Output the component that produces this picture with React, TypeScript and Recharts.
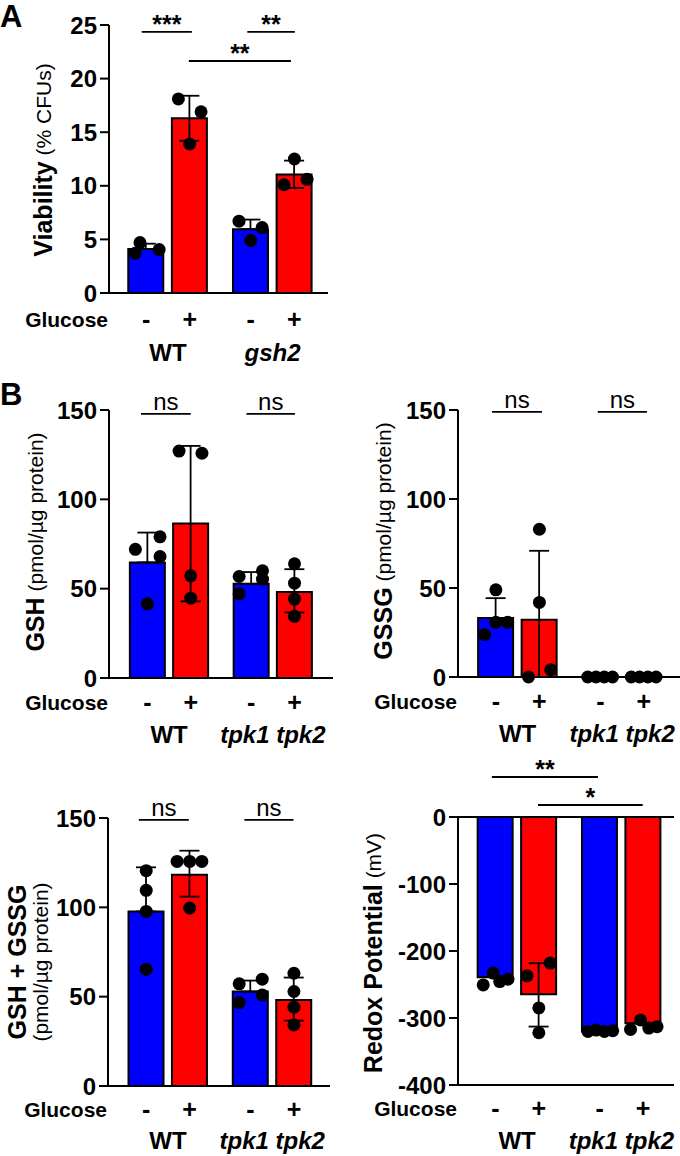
import React from 'react';
import { ComposedChart, Bar, Cell, XAxis, YAxis, Scatter, ErrorBar, ReferenceLine } from 'recharts';

const FONT = '"Liberation Sans", Arial, Helvetica, sans-serif';
const BLUE = '#0000ff';
const RED = '#ff0000';

// ---------- shared categories ----------
const barColors = [BLUE, RED, BLUE, RED];
const positions = [0, 1, 2.4, 3.4];
const glucoseSigns = ['-', '+', '-', '+'];
const groupPositions = [0.5, 2.9];
const strainsA = ['WT', 'gsh2'];
const strainsB = ['WT', 'tpk1 tpk2'];
const strainItalic = [false, true];

// ---------- Panel A: viability ----------
const viabilityTicks = [0, 5, 10, 15, 20, 25];
const viabilityMean = [4.1, 16.3, 5.95, 11.05];
const viabilityErr = [[0, 0.5], [2.1, 2.1], [0, 0.9], [1.25, 1.3]];
const viabilityPts = [[3.7, 4.7, 4.05], [18.1, 16.9, 13.9], [6.7, 6.1, 4.9], [12.5, 10.1, 10.6]];
const viabilityJit = [[-0.25, -0.14, 0.3], [-0.26, 0.26, 0], [-0.27, 0.26, 0], [0, -0.24, 0.29]];
const viabilitySig = [
  { x1: -0.1, x2: 1.05, y: 24.35, text: '***' },
  { x1: 2.32, x2: 3.41, y: 24.35, text: '**' },
  { x1: 0.98, x2: 3.32, y: 21.64, text: '**' },
];

// ---------- GSH ----------
const glutTicks = [0, 50, 100, 150];
const gshMean = [64.7, 86.5, 52.7, 48.1];
const gshErr = [[0, 16.7], [43.6, 43.4], [0, 6.6], [11.4, 12.8]];
const gshPts = [[72, 79, 68, 41.5], [127, 125.8, 57.2, 44.7], [56.8, 60, 47.1, 55.3], [63.9, 53.1, 44.2, 34.5]];
const gshJit = [[-0.28, 0.29, 0.29, 0], [-0.27, 0.26, 0, 0], [-0.28, 0.26, -0.28, 0.26], [0, 0, 0, 0]];
const gshSig = [
  { x1: -0.15, x2: 1.0, y: 147.8, text: 'ns' },
  { x1: 2.29, x2: 3.41, y: 147.8, text: 'ns' },
];

// ---------- GSSG ----------
const gssgMean = [33.1, 32.2, 0, 0];
const gssgErr = [[0, 11.2], [32.2, 38.7], [0, 0], [0, 0]];
const gssgPts = [[49, 23.8, 30.7, 30.7], [83, 41.9, 0, 4.1], [0, 0, 0, 0], [0, 0, 0, 0]];
const gssgJit = [[0, -0.26, 0, 0.27], [0, 0, -0.25, 0.26], [-0.29, -0.1, 0.09, 0.28], [-0.29, -0.1, 0.09, 0.28]];
const gssgSig = [
  { x1: -0.09, x2: 1.06, y: 148.9, text: 'ns' },
  { x1: 2.34, x2: 3.47, y: 148.9, text: 'ns' },
];

// ---------- GSH + GSSG ----------
const totalMean = [97.7, 118.3, 52.9, 48.2];
const totalErr = [[0, 24.7], [12.3, 13.4], [0, 6.1], [11.6, 12.5]];
const totalPts = [[120.5, 109.5, 97.7, 65.4], [125.7, 125.7, 125.7, 99.6], [57.2, 59.8, 46.7, 51], [63.1, 52.9, 44.1, 34.2]];
const totalJit = [[0, 0, 0, 0], [-0.29, 0, 0.28, 0], [-0.26, 0.27, -0.26, 0.27], [0, 0, 0, 0]];
const totalSig = [
  { x1: -0.17, x2: 0.98, y: 148.9, text: 'ns' },
  { x1: 2.26, x2: 3.39, y: 148.9, text: 'ns' },
];

// ---------- Redox potential ----------
const redoxTicks = [-400, -300, -200, -100, 0];
const redoxMean = [-239, -264.5, -320, -308];
const redoxErr = [[0, 0], [48.3, 46.3], [0, 0], [0, 0]];
const redoxPts = [[-250.6, -233, -245.6, -242], [-237, -218, -285, -322], [-320, -318, -320, -319], [-317, -303, -315, -313]];
const redoxJit = [[-0.28, -0.05, 0.1, 0.29], [-0.27, 0.26, 0, 0], [-0.27, -0.08, 0.11, 0.3], [-0.29, -0.06, 0.13, 0.32]];
const redoxSig = [
  { x1: -0.08, x2: 2.36, y: 59.7, text: '**' },
  { x1: 0.98, x2: 3.39, y: 17.9, text: '*' },
];

type Sig = { x1: number; x2: number; y: number; text: string };
type Part = { t: string; bold: boolean };
type LabelLine = { x: number; parts: Part[] };

interface PanelProps {
  left: number; top: number; width: number; height: number;
  plot: { l: number; r: number; t: number; b: number };
  xDomain: [number, number]; yDomain: [number, number]; yTicks: number[];
  means: number[]; errs: number[][]; pts: number[][]; jit: number[][];
  sigs: Sig[]; strains: string[];
  yLabelCy: number; yLabelLines: LabelLine[];
  signDy: number; groupDy: number; zeroLine?: boolean;
}

const makeSigLabel = (text: string) => (props: any) => {
  const vb = props.viewBox || {};
  const cx = (vb.x ?? 0) + (vb.width ?? 0) / 2;
  const y = vb.y ?? 0;
  const isStar = text.indexOf('*') >= 0;
  return (
    <text x={cx} y={isStar ? y + 1 : y - 4} textAnchor="middle" fontFamily={FONT}
      fontSize={isStar ? 25 : 24} fontWeight={isStar ? 700 : 400} fill="#000">{text}</text>
  );
};

function Panel(p: PanelProps) {
  const yw = p.plot.l - p.left;
  const margin = {
    top: p.plot.t - p.top,
    right: p.left + p.width - p.plot.r,
    bottom: p.top + p.height - p.plot.b - 70,
    left: 0,
  };
  const barData = positions.map((x, i) => ({ x, v: p.means[i], err: p.errs[i] }));
  const dotData = p.pts.flatMap((arr, i) => arr.map((y, j) => ({ x: positions[i] + p.jit[i][j], y })));
  const localPlotLeft = p.plot.l - p.left;

  const signTick = (props: any) => {
    const { x, y, payload } = props;
    const i = positions.indexOf(payload.value);
    return (
      <g>
        <text x={x} y={y + p.signDy} textAnchor="middle" dominantBaseline="central" fontFamily={FONT}
          fontSize={25} fontWeight={700} fill="#000">{glucoseSigns[i]}</text>
        {i === 0 && (
          <text x={localPlotLeft - 1} y={y + p.signDy} textAnchor="end" dominantBaseline="central"
            fontFamily={FONT} fontSize={21} fontWeight={700} fill="#000">Glucose</text>
        )}
      </g>
    );
  };
  const groupTick = (props: any) => {
    const { x, y, payload } = props;
    const i = groupPositions.indexOf(payload.value);
    return (
      <text x={x} y={y + p.groupDy} textAnchor="middle" dominantBaseline="central" fontFamily={FONT}
        fontSize={24} fontWeight={700} fontStyle={strainItalic[i] ? 'italic' : 'normal'} fill="#000">
        {p.strains[i]}
      </text>
    );
  };
  const yLabel = () => (
    <g>
      {p.yLabelLines.map((line, k) => {
        const lx = line.x - p.left;
        const ly = p.yLabelCy - p.top;
        return (
          <text key={k} x={lx} y={ly} transform={`rotate(-90 ${lx} ${ly})`} textAnchor="middle"
            dominantBaseline="central" fontFamily={FONT} fill="#000" style={{ whiteSpace: 'pre' }}>
            {line.parts.map((pt, m) => (
              <tspan key={m} fontWeight={pt.bold ? 700 : 400} fontSize={pt.bold ? 25 : 21}>{pt.t}</tspan>
            ))}
          </text>
        );
      })}
    </g>
  );

  return (
    <div style={{ position: 'absolute', left: p.left, top: p.top, width: p.width, height: p.height }}>
      <ComposedChart width={p.width} height={p.height} data={barData} margin={margin}>
        <XAxis dataKey="x" type="number" domain={p.xDomain} ticks={positions} interval={0}
          tickLine={false} tickSize={0} tickMargin={0} height={30}
          axisLine={{ stroke: '#000', strokeWidth: 2 }} tick={signTick} />
        <XAxis xAxisId="g" dataKey="x" type="number" domain={p.xDomain} ticks={groupPositions} interval={0}
          tickLine={false} tickSize={0} tickMargin={0} height={40} axisLine={false} tick={groupTick} />
        <XAxis xAxisId="d" dataKey="x" type="number" domain={p.xDomain} hide height={0} />
        <YAxis type="number" domain={p.yDomain} ticks={p.yTicks} interval={0} width={yw}
          tickSize={9} tickMargin={3}
          axisLine={{ stroke: '#000', strokeWidth: 2 }} tickLine={{ stroke: '#000', strokeWidth: 2 }}
          tick={{ fill: '#000', fontSize: 24, fontWeight: 700, fontFamily: FONT }}
          label={{ content: yLabel }} />
        {p.zeroLine && (
          <ReferenceLine segment={[{ x: p.xDomain[0], y: 0 }, { x: p.xDomain[1], y: 0 }]}
            stroke="#000" strokeWidth={2} ifOverflow="visible" />
        )}
        <Bar dataKey="v" barSize={35} stroke="#000" strokeWidth={2} isAnimationActive={false}>
          {barData.map((_, i) => <Cell key={i} fill={barColors[i]} />)}
          <ErrorBar dataKey="err" width={10} stroke="#000" strokeWidth={1.8} direction="y" />
        </Bar>
        <Scatter xAxisId="d" data={dotData} dataKey="y" isAnimationActive={false}
          shape={(sp: any) => <circle cx={sp.cx} cy={sp.cy} r={6.5} fill="#000" />} />
        {p.sigs.map((s, k) => (
          <ReferenceLine key={k} segment={[{ x: s.x1, y: s.y }, { x: s.x2, y: s.y }]} stroke="#000"
            strokeWidth={1.8} ifOverflow="visible" label={{ content: makeSigLabel(s.text) }} />
        ))}
      </ComposedChart>
    </div>
  );
}

const bold = (t: string): Part => ({ t, bold: true });
const reg = (t: string): Part => ({ t, bold: false });

export default function App() {
  return (
    <div style={{ position: 'absolute', left: 0, top: 0, width: 680, height: 1156, background: '#fff' }}>
      <Panel left={0} top={0} width={340} height={372} plot={{ l: 109, r: 328, t: 25, b: 293 }}
        xDomain={[-0.85, 4.17]} yDomain={[0, 25]} yTicks={viabilityTicks}
        means={viabilityMean} errs={viabilityErr} pts={viabilityPts} jit={viabilityJit}
        sigs={viabilitySig} strains={strainsA} yLabelCy={160}
        yLabelLines={[{ x: 43, parts: [bold('Viability'), reg(' (% CFUs)')] }]}
        signDy={26} groupDy={29} />
      <Panel left={0} top={372} width={340} height={388} plot={{ l: 109, r: 333, t: 410, b: 678 }}
        xDomain={[-0.89, 4.29]} yDomain={[0, 150]} yTicks={glutTicks}
        means={gshMean} errs={gshErr} pts={gshPts} jit={gshJit}
        sigs={gshSig} strains={strainsB} yLabelCy={542}
        yLabelLines={[{ x: 35, parts: [bold('GSH'), reg(' (pmol/µg protein)')] }]}
        signDy={24} groupDy={26} />
      <Panel left={340} top={372} width={340} height={388} plot={{ l: 458, r: 680, t: 410, b: 677 }}
        xDomain={[-0.87, 4.23]} yDomain={[0, 150]} yTicks={glutTicks}
        means={gssgMean} errs={gssgErr} pts={gssgPts} jit={gssgJit}
        sigs={gssgSig} strains={strainsB} yLabelCy={541}
        yLabelLines={[{ x: 383, parts: [bold('GSSG'), reg(' (pmol/µg protein)')] }]}
        signDy={24} groupDy={26} />
      <Panel left={0} top={760} width={340} height={396} plot={{ l: 108, r: 330, t: 818, b: 1086 }}
        xDomain={[-0.88, 4.23]} yDomain={[0, 150]} yTicks={glutTicks}
        means={totalMean} errs={totalErr} pts={totalPts} jit={totalJit}
        sigs={totalSig} strains={strainsB} yLabelCy={962}
        yLabelLines={[{ x: 17, parts: [bold('GSH + GSSG')] }, { x: 40, parts: [reg('(pmol/µg protein)')] }]}
        signDy={23} groupDy={24} />
      <Panel left={340} top={740} width={340} height={416} plot={{ l: 458, r: 674, t: 817, b: 1085 }}
        xDomain={[-0.86, 4.11]} yDomain={[-400, 0]} yTicks={redoxTicks}
        means={redoxMean} errs={redoxErr} pts={redoxPts} jit={redoxJit}
        sigs={redoxSig} strains={strainsB} yLabelCy={953}
        yLabelLines={[{ x: 373, parts: [bold('Redox Potential'), reg(' (mV)')] }]}
        signDy={23} groupDy={25} zeroLine />
      <svg width={680} height={1156} style={{ position: 'absolute', left: 0, top: 0, pointerEvents: 'none' }}>
        <text x={0} y={27} fontFamily={FONT} fontSize={31} fontWeight={700} fill="#000">A</text>
        <text x={0} y={405} fontFamily={FONT} fontSize={31} fontWeight={700} fill="#000">B</text>
      </svg>
    </div>
  );
}
